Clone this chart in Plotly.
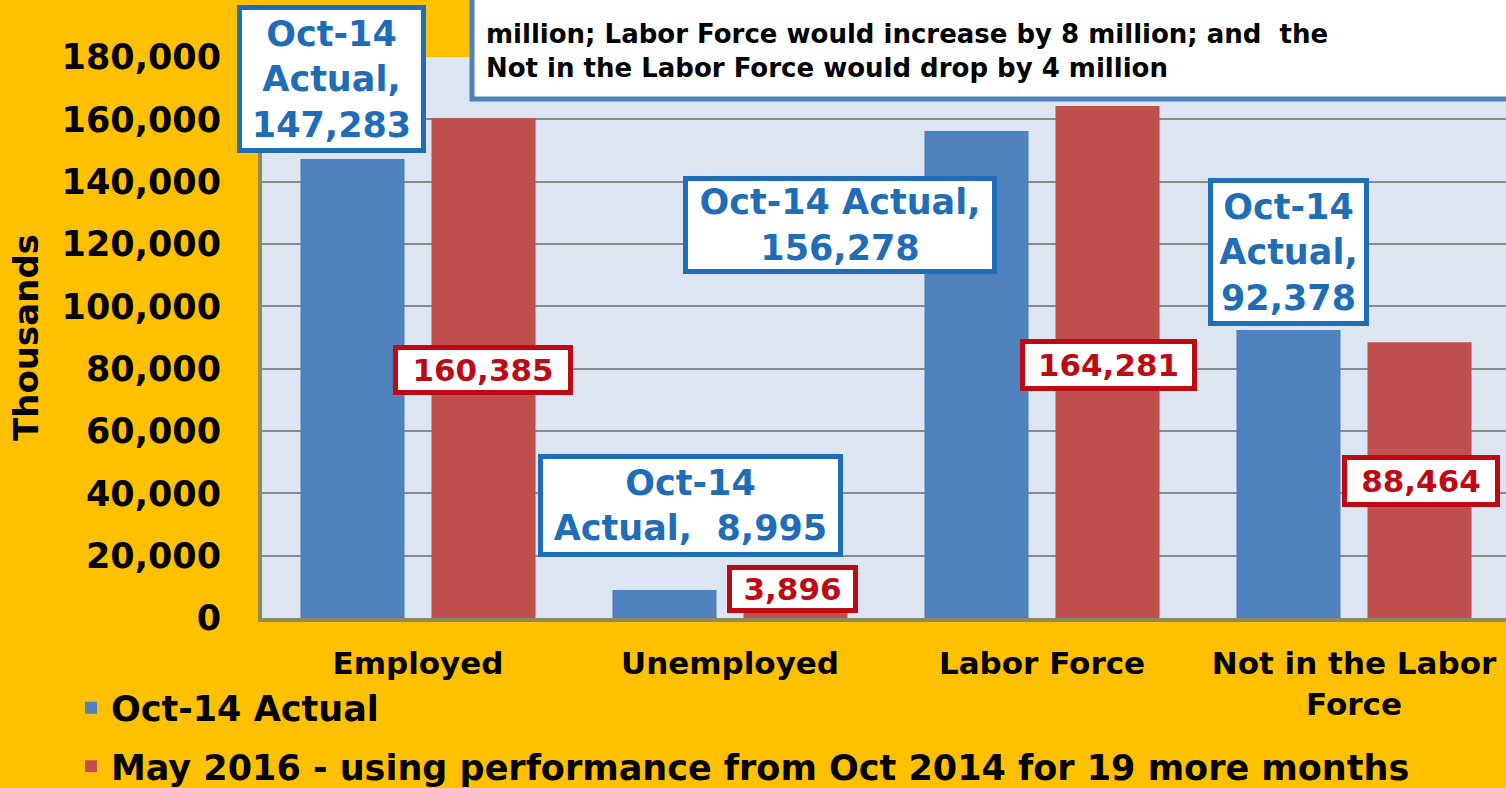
import plotly.graph_objects as go

categories = ["Employed", "Unemployed", "Labor Force", "Not in the Labor<br>Force"]
oct14_actual = [147283, 8995, 156278, 92378]
may2016_proj = [160385, 3896, 164281, 88464]
series_names = ["Oct-14 Actual", "May 2016 - using performance from Oct 2014 for 19 more months"]
tick_values = [0, 20000, 40000, 60000, 80000, 100000, 120000, 140000, 160000, 180000]
blue_labels = ["Oct-14<br>Actual,<br>147,283", "Oct-14<br>Actual,\u00a0\u00a08,995",
               "Oct-14 Actual,<br>156,278", "Oct-14<br>Actual,<br>92,378"]
red_labels = ["160,385", "3,896", "164,281", "88,464"]
note_text = ("million; Labor Force would increase by 8 million; and\u00a0\u00a0the<br>"
             "Not in the Labor Force would drop by 4 million")

W, H = 1506, 788
L, R, T, B = 262, 0, 57, 169.5
PW = W - L - R
PH = H - T - B

def px2x(px):
    return (px - L) / PW

def py2y(py):
    return (H - B - py) / PH

FONT = "DejaVu Sans"
BLUE = "#4F81BD"
RED = "#C0504D"
LBL_BLUE = "#1F6DB6"
LBL_RED = "#BE0A14"
OLIVE = "#8E8A5C"

fig = go.Figure()
fig.add_trace(go.Bar(x=categories, y=oct14_actual, name=series_names[0],
                     marker=dict(color=BLUE, line=dict(width=0)), legendgroup="a"))
fig.add_trace(go.Bar(x=categories, y=may2016_proj, name=series_names[1],
                     marker=dict(color=RED, line=dict(width=0)), legendgroup="b"))

# label boxes: (center x px, center y px, width px, height px)
blue_boxes = [(331, 79, 189, 148), (690, 506, 305, 103), (840, 225, 314, 98), (1288, 252, 161, 148)]
red_boxes = [(483, 370, 180, 50), (792, 589, 131, 48), (1108, 365, 177, 52), (1421, 481, 158, 52)]

annotations = []
for txt, (cx, cy, bw, bh) in zip(blue_labels, blue_boxes):
    annotations.append(dict(text=txt, xref="paper", yref="paper", x=px2x(cx), y=py2y(cy),
                            xanchor="center", yanchor="middle", showarrow=False,
                            width=bw - 10, height=bh - 10, borderpad=0,
                            bgcolor="white", bordercolor=LBL_BLUE, borderwidth=5,
                            font=dict(family=FONT, size=35, color=LBL_BLUE, weight="bold")))
for txt, (cx, cy, bw, bh) in zip(red_labels, red_boxes):
    annotations.append(dict(text=txt, xref="paper", yref="paper", x=px2x(cx), y=py2y(cy),
                            xanchor="center", yanchor="middle", showarrow=False,
                            width=bw - 10, height=bh - 10, borderpad=0,
                            bgcolor="white", bordercolor=LBL_RED, borderwidth=5,
                            font=dict(family=FONT, size=31, color=LBL_RED, weight="bold")))
annotations.append(dict(text=note_text, xref="paper", yref="paper", x=px2x(484), y=py2y(51),
                        xanchor="left", yanchor="middle", align="left", showarrow=False,
                        font=dict(family=FONT, size=26, color="black", weight="bold")))

shapes = [dict(type="rect", xref="paper", yref="paper", x0=px2x(472), x1=px2x(1530),
               y0=py2y(99), y1=py2y(-40), fillcolor="white",
               line=dict(color=BLUE, width=5), layer="above")]

fig.update_layout(
    width=W, height=H,
    margin=dict(l=L, r=R, t=T, b=B, autoexpand=False),
    paper_bgcolor="#FFC000",
    plot_bgcolor="#DCE5F1",
    barmode="group", bargap=0.16, bargroupgap=0.206,
    font=dict(family=FONT, color="black"),
    annotations=annotations,
    shapes=shapes,
    legend=dict(orientation="v", x=px2x(71), y=py2y(679), xanchor="left", yanchor="top",
                bgcolor="rgba(0,0,0,0)", tracegroupgap=10,
                font=dict(family=FONT, size=35, color="black", weight="bold")),
    showlegend=True,
)
fig.update_xaxes(range=[-0.5, -0.5 + PW / 312.0], showline=True, linecolor=OLIVE, linewidth=4,
                 ticks="outside", ticklen=15, tickcolor="rgba(0,0,0,0)",
                 tickfont=dict(family=FONT, size=31, color="black", weight="bold"),
                 showgrid=False, fixedrange=True)
fig.update_yaxes(range=[0, 180000], tickvals=tick_values, tickformat=",d",
                 showline=True, linecolor=OLIVE, linewidth=4,
                 ticks="outside", ticklen=30, tickcolor="rgba(0,0,0,0)",
                 tickfont=dict(family=FONT, size=35, color="black", weight="bold"),
                 showgrid=True, gridcolor="#8A8A8A", gridwidth=1.5, zeroline=False,
                 title=dict(text="Thousands", standoff=14,
                            font=dict(family=FONT, size=34, color="black", weight="bold")))

fig.write_html("out.html", config={"displayModeBar": False},
               post_script="document.body.style.margin='0px';")
